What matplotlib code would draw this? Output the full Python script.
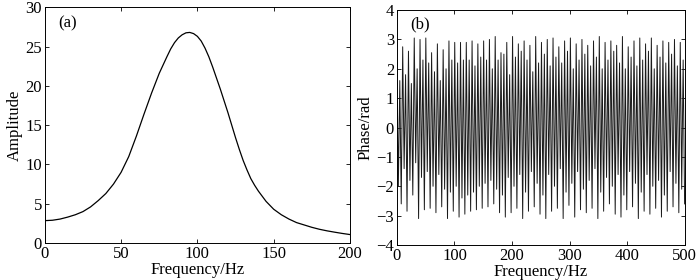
import numpy as np
import matplotlib
matplotlib.use("Agg")
import matplotlib.pyplot as plt

plt.rcParams['font.family'] = ['Liberation Serif', 'DejaVu Serif']
plt.rcParams['font.size'] = 12

# (a) amplitude spectrum, read every 5 Hz (2.5 Hz around the peak)
amp_freq = [0, 5, 10, 15, 20, 25, 30, 35, 40, 45, 50, 55, 60, 65, 70, 75, 80,
            82.5, 85, 87.5, 90, 92.5, 95, 97.5, 100, 102.5, 105, 107.5, 110,
            112.5, 115, 117.5, 120, 122.5, 125, 127.5, 130, 132.5, 135, 137.5,
            140, 145, 150, 155, 160, 165, 170, 175, 180, 185, 190, 195, 200]
amplitude = [2.85, 2.9, 3.05, 3.3, 3.6, 4.0, 4.6, 5.4, 6.3, 7.5, 9.0, 11.0,
             13.6, 16.4, 19.1, 21.6, 23.7,
             24.7, 25.5, 26.1, 26.5, 26.75, 26.8, 26.65, 26.3, 25.7, 24.8, 23.7, 22.4,
             21.0, 19.6, 18.1, 16.6, 15.0, 13.4, 11.9, 10.5, 9.3, 8.2, 7.35,
             6.6, 5.3, 4.3, 3.6, 3.05, 2.6, 2.3, 2.0, 1.75, 1.55, 1.38, 1.22, 1.08]

# (b) wrapped phase, per 10 Hz: tall top, shallow bottom, medium top, deep bottom
tall_top = [2.3, 2.75, 2.6, 3.05, 3.0, 3.05, 2.55, 2.85, 2.65, 2.95,
            2.9, 2.9, 2.9, 2.95, 2.85, 2.95, 3.0, 3.1, 2.55, 2.9,
            3.1, 2.85, 2.95, 2.8, 3.1, 2.9, 3.0, 3.05, 2.75, 2.95,
            3.05, 2.85, 3.0, 2.8, 2.95, 3.1, 2.9, 2.95, 2.8, 3.1,
            2.75, 2.95, 3.05, 2.85, 3.05, 2.8, 2.95, 2.9, 3.0, 2.9]
shallow_bottom = [-2.0, -1.4, -1.8, -1.2, -1.7, -1.5, -2.0, -1.6, -2.1, -2.2,
                  -2.0, -2.4, -2.3, -2.2, -2.0, -1.9, -1.8, -2.1, -2.3, -1.7,
                  -2.0, -1.6, -2.2, -1.5, -1.9, -2.3, -1.6, -2.0, -1.4, -2.2,
                  -1.9, -1.5, -2.1, -1.8, -1.4, -2.2, -1.7, -2.0, -1.6, -2.3,
                  -1.5, -1.9, -2.2, -1.6, -2.0, -1.8, -2.3, -1.5, -1.9, -2.1]
medium_top = [1.6, 1.8, 1.5, 2.0, 2.3, 2.2, 1.9, 1.6, 2.0, 2.3,
              2.2, 2.3, 2.3, 2.1, 2.4, 2.3, 2.0, 2.3, 2.5, 1.8,
              2.4, 2.6, 2.3, 1.9, 2.2, 2.5, 2.1, 2.4, 2.2, 2.6,
              2.0, 2.3, 2.5, 2.1, 2.4, 2.0, 2.3, 2.6, 2.2, 2.0,
              2.4, 2.1, 2.3, 2.6, 2.0, 2.4, 2.2, 2.5, 2.1, 2.3]
deep_bottom = [-2.6, -2.85, -2.3, -3.1, -2.8, -2.75, -2.9, -2.7, -3.1, -2.85,
               -3.05, -2.95, -2.85, -2.8, -2.75, -2.7, -2.6, -2.9, -3.05, -2.9,
               -2.75, -3.1, -2.85, -2.7, -2.95, -3.1, -2.85, -2.75, -3.1, -2.65,
               -3.05, -2.8, -2.9, -2.75, -3.1, -2.85, -2.6, -2.95, -3.05, -2.8,
               -2.7, -3.1, -2.85, -2.95, -2.75, -3.05, -2.85, -2.7, -2.9, -2.6]

phase = np.column_stack([tall_top, shallow_bottom, medium_top, deep_bottom]).ravel()
phase_freq = np.linspace(0, 500, len(phase))

fig = plt.figure(figsize=(7, 2.8), dpi=100)
ax1 = fig.add_axes([0.064, 0.132, 0.436, 0.842])
ax2 = fig.add_axes([0.567, 0.125, 0.411, 0.839])

ax1.plot(amp_freq, amplitude, color='black', lw=0.9)
ax1.set_xlim(0, 200)
ax1.set_ylim(0, 30)
ax1.set_xticks([0, 50, 100, 150, 200])
ax1.set_yticks([0, 5, 10, 15, 20, 25, 30])
ax1.set_xlabel('Frequency/Hz', labelpad=0)
ax1.set_ylabel('Amplitude', labelpad=2)
ax1.text(0.045, 0.93, '(a)', transform=ax1.transAxes, va='center')

ax2.plot(phase_freq, phase, color='#1a1a1a', lw=0.7)
ax2.set_xlim(0, 500)
ax2.set_ylim(-4, 4)
ax2.set_xticks([0, 100, 200, 300, 400, 500])
ax2.set_yticks(range(-4, 5))
ax2.set_xlabel('Frequency/Hz', labelpad=0)
ax2.set_ylabel('Phase/rad', labelpad=2)
ax2.text(0.045, 0.94, '(b)', transform=ax2.transAxes, va='center')

for ax in (ax1, ax2):
    ax.tick_params(direction='in', top=True, right=True, length=3, width=0.6, pad=2)
    for s in ax.spines.values():
        s.set_linewidth(0.7)

fig.savefig('out.png', dpi=100)
